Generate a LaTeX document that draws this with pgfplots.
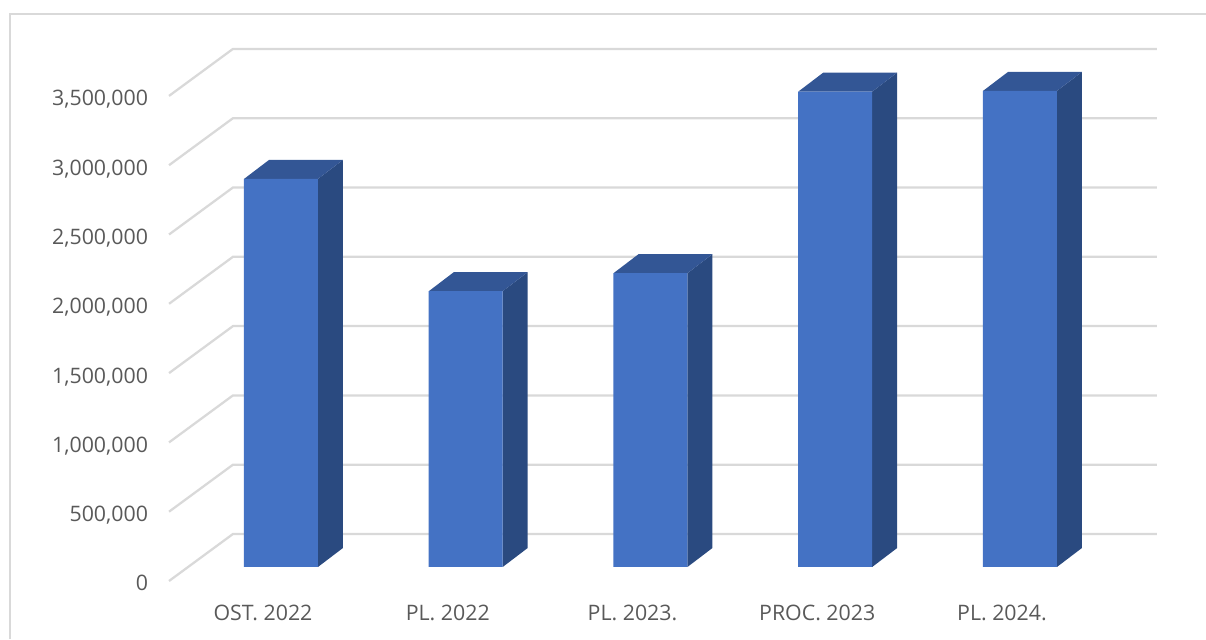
\documentclass[border=0pt]{standalone}
\usepackage{fontspec}
\setmainfont{Open Sans}
\usepackage{pgfplots}
\usepackage{pgfplotstable}
\pgfplotsset{compat=1.18}

\definecolor{barfront}{HTML}{4472C4}
\definecolor{barside}{HTML}{2A4A80}
\definecolor{bartop}{HTML}{335695}
\definecolor{gridgray}{HTML}{D9D9D9}
\definecolor{labelgray}{HTML}{595959}

\pgfplotstableread{
x value
0 2800000
1 1990000
2 2120000
3 3430000
4 3435000
}\bars

\begin{document}
\begin{tikzpicture}
\begin{axis}[
    scale only axis,
    width=904.5pt, height=479.25pt,
    xmin=-1.521, xmax=5.007,
    ymin=-519500, ymax=4091000,
    axis line style={draw=none},
    tick style={draw=none},
    major tick length=0pt,
    xtick={0,1,2,3,4},
    xticklabels={OST. 2022,PL. 2022,PL. 2023.,PROC. 2023,PL. 2024.},
    ytick={0,500000,1000000,1500000,2000000,2500000,3000000,3500000},
    scaled y ticks=false,
    /pgf/number format/fixed,
    /pgf/number format/1000 sep={,},
    /pgf/number format/assume math mode=true,
    tick label style={font=\fontsize{16}{16}\selectfont, text=labelgray, inner sep=0pt, outer sep=0pt},
    yticklabel style={anchor=base east, xshift=111pt, yshift=-18pt},
    xticklabel style={anchor=center, xshift=-13.5pt, yshift=19.25pt},
    grid line/.style={draw=gridgray, line width=1.7pt, no markers},
]
% chart frame
\addplot[grid line] coordinates {(-1.4668,-519500)(-1.4668,3990000)(5.007,3990000)};
% floor and back wall lines
\addplot[grid line] coordinates {(-0.606,-101000)(-0.26,238100)(4.7415,238100)};
\addplot[grid line] coordinates {(-0.606,399000)(-0.26,738100)(4.7415,738100)};
\addplot[grid line] coordinates {(-0.606,899000)(-0.26,1238100)(4.7415,1238100)};
\addplot[grid line] coordinates {(-0.606,1399000)(-0.26,1738100)(4.7415,1738100)};
\addplot[grid line] coordinates {(-0.606,1899000)(-0.26,2238100)(4.7415,2238100)};
\addplot[grid line] coordinates {(-0.606,2399000)(-0.26,2738100)(4.7415,2738100)};
\addplot[grid line] coordinates {(-0.606,2899000)(-0.26,3238100)(4.7415,3238100)};
\addplot[grid line] coordinates {(-0.606,3399000)(-0.26,3738100)(4.7415,3738100)};
% bar sides
\addplot[fill=barside, draw=none, no markers] coordinates {(0.2,0)(0.3353,137100)(0.3353,2937100)(0.2,2800000)} --cycle;
\addplot[fill=barside, draw=none, no markers] coordinates {(1.2,0)(1.3353,137100)(1.3353,2127100)(1.2,1990000)} --cycle;
\addplot[fill=barside, draw=none, no markers] coordinates {(2.2,0)(2.3353,137100)(2.3353,2257100)(2.2,2120000)} --cycle;
\addplot[fill=barside, draw=none, no markers] coordinates {(3.2,0)(3.3353,137100)(3.3353,3567100)(3.2,3430000)} --cycle;
\addplot[fill=barside, draw=none, no markers] coordinates {(4.2,0)(4.3353,137100)(4.3353,3572100)(4.2,3435000)} --cycle;
% bar tops
\addplot[fill=bartop, draw=none, no markers] coordinates {(-0.2,2800000)(0.2,2800000)(0.3353,2937100)(-0.0647,2937100)} --cycle;
\addplot[fill=bartop, draw=none, no markers] coordinates {(0.8,1990000)(1.2,1990000)(1.3353,2127100)(0.9353,2127100)} --cycle;
\addplot[fill=bartop, draw=none, no markers] coordinates {(1.8,2120000)(2.2,2120000)(2.3353,2257100)(1.9353,2257100)} --cycle;
\addplot[fill=bartop, draw=none, no markers] coordinates {(2.8,3430000)(3.2,3430000)(3.3353,3567100)(2.9353,3567100)} --cycle;
\addplot[fill=bartop, draw=none, no markers] coordinates {(3.8,3435000)(4.2,3435000)(4.3353,3572100)(3.9353,3572100)} --cycle;
% bar fronts
\addplot[ybar, bar width=55.5pt, bar shift=0pt, fill=barfront, draw=none] table[x=x, y=value] {\bars};
\end{axis}
\end{tikzpicture}
\end{document}
